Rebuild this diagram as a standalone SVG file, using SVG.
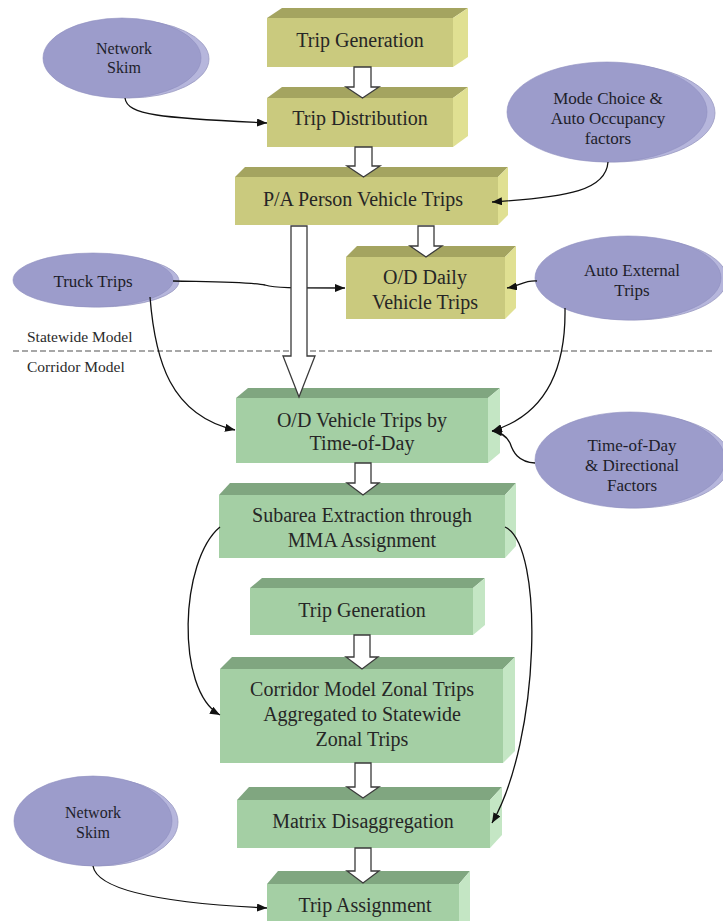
<svg xmlns="http://www.w3.org/2000/svg" width="723" height="921" viewBox="0 0 723 921">
  <style>
    .yf { fill: #caca7e; }
    .yt { fill: #a4a460; }
    .yr { fill: #e0e092; }
    .gf { fill: #a4cfa4; }
    .gt { fill: #80a680; }
    .gr { fill: #c4e6c4; }
    .rim { fill: #b6b6dc; stroke: #9a9ac2; stroke-width: 0.8; }
    .oval { fill: #9c9ccb; stroke: #8e8ec0; stroke-width: 0.6; }
    .bt { font-family: "Liberation Serif", "Times New Roman", serif; font-size: 20px; fill: #262626; text-anchor: middle; }
    .et { font-family: "Liberation Serif", "Times New Roman", serif; font-size: 17px; fill: #1e1e2a; text-anchor: middle; }
    .lt { font-family: "Liberation Serif", "Times New Roman", serif; font-size: 15.5px; fill: #2a2a2a; }
    .link { fill: none; stroke: #111; stroke-width: 1.3; marker-end: url(#tip); }
    .block { fill: #ffffff; stroke: #3a3a3a; stroke-width: 1.3; stroke-linejoin: miter; }
  </style>
  <defs>
    <marker id="tip" viewBox="0 0 10 8" refX="10" refY="4" markerWidth="10" markerHeight="8" markerUnits="userSpaceOnUse" orient="auto">
      <path d="M0,0 L10,4 L0,8 Z" fill="#111"/>
    </marker>
  </defs>

  <!-- model boundary -->
  <line x1="13" y1="351" x2="712" y2="351" stroke="#8a8a8a" stroke-width="1.3" stroke-dasharray="6 3"/>
  <text class="lt" x="27" y="342">Statewide Model</text>
  <text class="lt" x="27" y="372">Corridor Model</text>

  <!-- statewide model steps -->
  <g id="trip-generation">
    <polygon class="yf" points="267,18 453,18 453,67 267,67"/>
    <polygon class="yt" points="267,18 282,8 468,8 453,18"/>
    <polygon class="yr" points="453,18 468,8 468,57 453,67"/>
    <text class="bt" x="360" y="47">Trip Generation</text>
  </g>
  <g id="trip-distribution">
    <polygon class="yf" points="267,98 453,98 453,147 267,147"/>
    <polygon class="yt" points="267,98 282,87 468,87 453,98"/>
    <polygon class="yr" points="453,98 468,87 468,136 453,147"/>
    <text class="bt" x="360" y="125">Trip Distribution</text>
  </g>
  <g id="pa-person-vehicle-trips">
    <polygon class="yf" points="235,177 498,177 498,225 235,225"/>
    <polygon class="yt" points="235,177 245,167 508,167 498,177"/>
    <polygon class="yr" points="498,177 508,167 508,215 498,225"/>
    <text class="bt" x="363" y="206">P/A Person Vehicle Trips</text>
  </g>
  <g id="od-daily-vehicle-trips">
    <polygon class="yf" points="346,257 505,257 505,319 346,319"/>
    <polygon class="yt" points="346,257 357,246 516,246 505,257"/>
    <polygon class="yr" points="505,257 516,246 516,308 505,319"/>
    <text class="bt" x="425" y="284">O/D Daily</text>
    <text class="bt" x="425" y="309">Vehicle Trips</text>
  </g>

  <!-- corridor model steps -->
  <g id="od-trips-by-time-of-day">
    <polygon class="gf" points="236,398 488,398 488,463 236,463"/>
    <polygon class="gt" points="236,398 248,388 500,388 488,398"/>
    <polygon class="gr" points="488,398 500,388 500,453 488,463"/>
    <text class="bt" x="362" y="427">O/D Vehicle Trips by</text>
    <text class="bt" x="362" y="450">Time-of-Day</text>
  </g>
  <g id="subarea-extraction">
    <polygon class="gf" points="219,495 505,495 505,558 219,558"/>
    <polygon class="gt" points="219,495 230,483 516,483 505,495"/>
    <polygon class="gr" points="505,495 516,483 516,546 505,558"/>
    <text class="bt" x="362" y="522">Subarea Extraction through</text>
    <text class="bt" x="362" y="547">MMA Assignment</text>
  </g>
  <g id="corridor-trip-generation">
    <polygon class="gf" points="250,588 473,588 473,635 250,635"/>
    <polygon class="gt" points="250,588 262,578 485,578 473,588"/>
    <polygon class="gr" points="473,588 485,578 485,625 473,635"/>
    <text class="bt" x="362" y="617">Trip Generation</text>
  </g>
  <g id="zonal-aggregation">
    <polygon class="gf" points="220,669 503,669 503,763 220,763"/>
    <polygon class="gt" points="220,669 232,657 515,657 503,669"/>
    <polygon class="gr" points="503,669 515,657 515,751 503,763"/>
    <text class="bt" x="362" y="696">Corridor Model Zonal Trips</text>
    <text class="bt" x="362" y="721">Aggregated to Statewide</text>
    <text class="bt" x="362" y="746">Zonal Trips</text>
  </g>
  <g id="matrix-disaggregation">
    <polygon class="gf" points="237,800 490,800 490,848 237,848"/>
    <polygon class="gt" points="237,800 249,787 502,787 490,800"/>
    <polygon class="gr" points="490,800 502,787 502,835 490,848"/>
    <text class="bt" x="363" y="828">Matrix Disaggregation</text>
  </g>
  <g id="trip-assignment">
    <polygon class="gf" points="267,884 459,884 459,930 267,930"/>
    <polygon class="gt" points="267,884 278,871 470,871 459,884"/>
    <polygon class="gr" points="459,884 470,871 470,930 459,930"/>
    <text class="bt" x="365" y="912">Trip Assignment</text>
  </g>

  <!-- inputs -->
  <g id="network-skim-top">
    <ellipse class="rim" cx="129" cy="59" rx="80" ry="39"/>
    <ellipse class="oval" cx="122" cy="58" rx="79" ry="40"/>
    <text class="et" x="124" y="54" style="font-size:16px">Network</text>
    <text class="et" x="124" y="73" style="font-size:16px">Skim</text>
  </g>
  <g id="mode-choice">
    <ellipse class="rim" cx="614" cy="113" rx="101" ry="49"/>
    <ellipse class="oval" cx="607" cy="112" rx="100" ry="50"/>
    <text class="et" x="608" y="104">Mode Choice &amp;</text>
    <text class="et" x="608" y="124">Auto Occupancy</text>
    <text class="et" x="608" y="144">factors</text>
  </g>
  <g id="truck-trips">
    <ellipse class="rim" cx="99" cy="281" rx="80" ry="26"/>
    <ellipse class="oval" cx="93" cy="280" rx="80" ry="27"/>
    <text class="et" x="93" y="287">Truck Trips</text>
  </g>
  <g id="auto-external">
    <ellipse class="rim" cx="634" cy="279" rx="93" ry="41"/>
    <ellipse class="oval" cx="628" cy="278" rx="93" ry="42"/>
    <text class="et" x="632" y="276">Auto External</text>
    <text class="et" x="632" y="296">Trips</text>
  </g>
  <g id="time-of-day-factors">
    <ellipse class="rim" cx="636" cy="461" rx="95" ry="47"/>
    <ellipse class="oval" cx="630" cy="460" rx="95" ry="48"/>
    <text class="et" x="632" y="451">Time-of-Day</text>
    <text class="et" x="632" y="471">&amp; Directional</text>
    <text class="et" x="632" y="491">Factors</text>
  </g>
  <g id="network-skim-bottom">
    <ellipse class="rim" cx="99" cy="822" rx="79" ry="44"/>
    <ellipse class="oval" cx="93" cy="821" rx="79" ry="45"/>
    <text class="et" x="93" y="818" style="font-size:16px">Network</text>
    <text class="et" x="93" y="838" style="font-size:16px">Skim</text>
  </g>

  <g id="connectors">
    <!-- input links -->
    <path class="link" d="M125,98 C127,115 160,118 267,123"/>
    <path class="link" d="M608,162 C606,190 570,197 492,202"/>
    <path class="link" d="M173,281 C220,282 250,282 265,285 C275,288 290,288 345,288"/>
    <path class="link" d="M150,297 C155,360 170,415 235,430"/>
    <path class="link" d="M537,281 C525,280 519,286 507,288"/>
    <path class="link" d="M565,308 C566,370 545,415 492,431"/>
    <path class="link" d="M535,463 C518,462 513,452 510,443 C506,435 500,432 492,431"/>
    <path class="link" d="M220,527 C180,560 175,690 220,715"/>
    <path class="link" d="M505,527 C545,545 540,740 492,823"/>
    <path class="link" d="M93,866 C97,890 160,903 267,908"/>
    <!-- process flow -->
    <path class="block" d="M354,67 V87 H346 L362.5,98 L379,87 H371 V67 Z"/>
    <path class="block" d="M355,147 V166 H347 L363.5,177 L380,166 H372 V147 Z"/>
    <path class="block" d="M418,226 V246 H410 L426,257 L442,246 H434 V226 Z"/>
    <path class="block" d="M291,226 V356 H283 L299,397 L315,356 H307 V226 Z"/>
    <path class="block" d="M355,463 V483 H347 L363,495 L379,483 H371 V463 Z"/>
    <path class="block" d="M354,635 V657 H346 L362,669 L378,657 H370 V635 Z"/>
    <path class="block" d="M355,763 V787 H347 L363,798 L379,787 H371 V763 Z"/>
    <path class="block" d="M355,848 V871 H347 L363,883 L379,871 H371 V848 Z"/>
  </g>
</svg>
